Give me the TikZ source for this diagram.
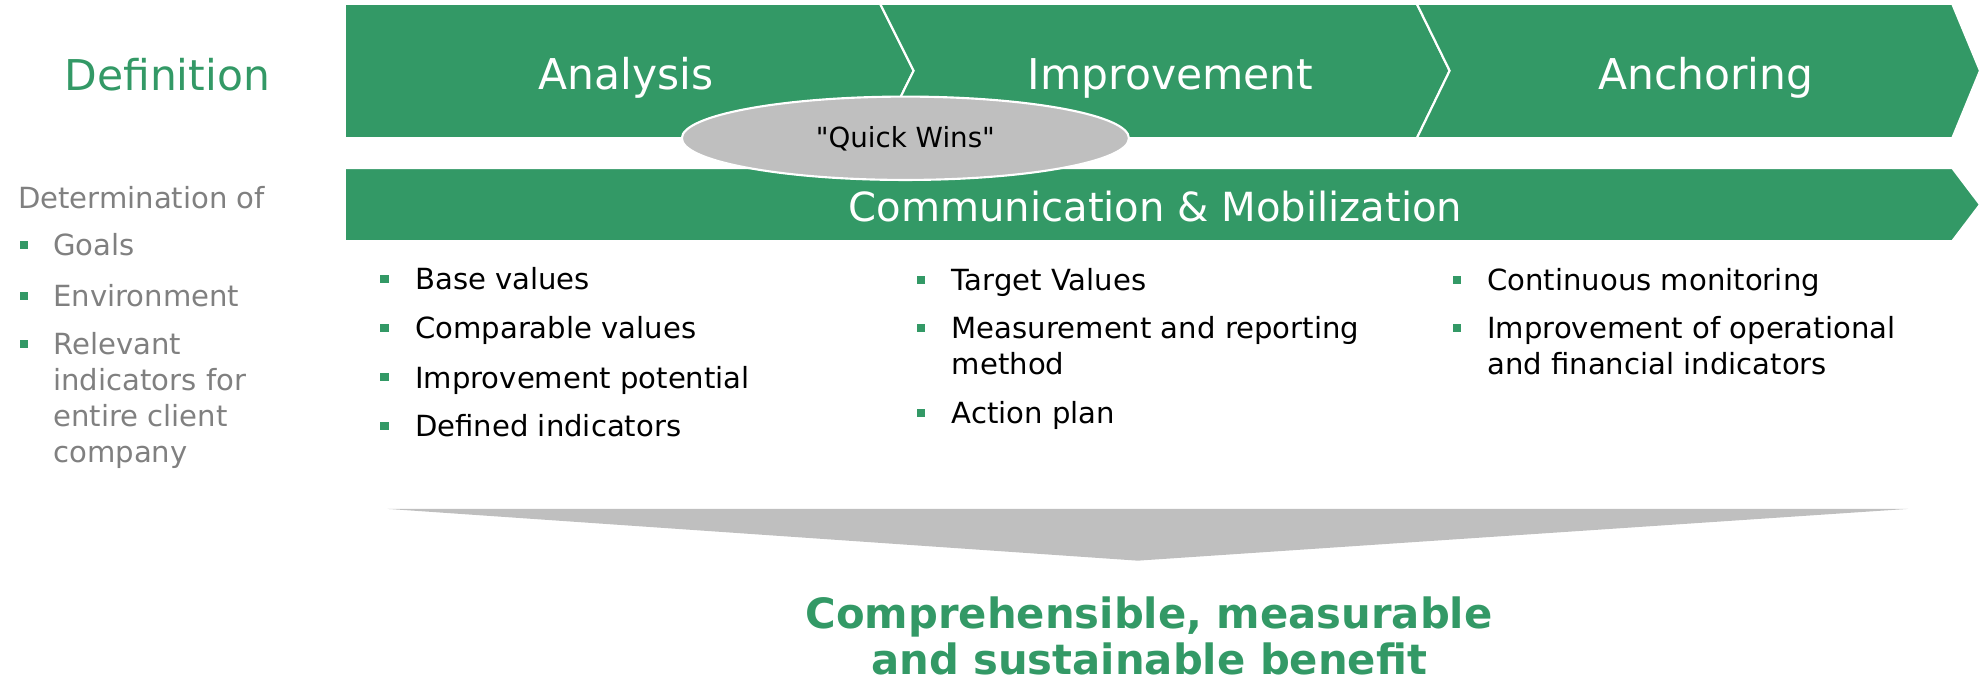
\documentclass[tikz,border=0pt]{standalone}
\usepackage{fontspec}
\setmainfont{DejaVu Sans}
\newfontfamily\winfamily{DejaVu Sans}[Ligatures=TeXOff]
\usepackage{xcolor}
\usepackage{tikz}
\usetikzlibrary{shapes.geometric}
\definecolor{phaseGreen}{RGB}{51,153,102}
\definecolor{winGray}{RGB}{191,191,191}
\definecolor{noteGray}{RGB}{128,128,128}
\newcommand{\phasefont}{\fontsize{23.9}{28}\selectfont}
\newcommand{\bandfont}{\fontsize{22.6}{26}\selectfont}
\newcommand{\itemfont}{\fontsize{16.4}{20.2}\selectfont}
\newcommand{\winfont}{\winfamily\fontsize{15.6}{18}\selectfont}
\newcommand{\benefitfont}{\fontsize{23.5}{26.3}\selectfont\bfseries}
\tikzset{%
  % Specifications for style of shapes and nodes:
      chevron/.style = {fill=phaseGreen, draw=white, line width=1.2pt,
                        line join=miter},
    phaseText/.style = {anchor=base, inner sep=0, text=white,
                        font=\phasefont},
         item/.style = {anchor=base west, inner sep=0,
                        font=\itemfont, text=black},
     noteItem/.style = {item, text=noteGray},
          dot/.style = {rectangle, fill=phaseGreen, inner sep=0,
                        minimum size=0.16cm},
}

\begin{document}
\begin{tikzpicture}[x=0.025cm, y=-0.025cm]
  \useasboundingbox (0,0) rectangle (1568,542.4);

  % Phase arrows
  \path[chevron] (273,3) -- (697,3) -- (723.5,56) -- (697,109.5)
                 -- (273,109.5) -- cycle;
  \path[chevron] (697,3) -- (1122,3) -- (1148,56) -- (1122,109.5)
                 -- (697,109.5) -- (723.5,56) -- cycle;
  \path[chevron] (1122,3) -- (1546,3) -- (1568,56) -- (1546,109.5)
                 -- (1122,109.5) -- (1148,56) -- cycle;
  \path[chevron] (273,133) -- (1546,133) -- (1568,162) -- (1546,191)
                 -- (273,191) -- cycle;

  % Funnel towards the benefit
  \fill[winGray] (307,403) -- (1511,403) -- (901,444) -- cycle;

  % Phase labels
  \node (definition)  [phaseText, text=phaseGreen] at (132.5,71.5) {Definition};
  \node (analysis)    [phaseText] at (495.5,70.5)  {Analysis};
  \node (improvement) [phaseText] at (927,70.5)    {Improvement};
  \node (anchoring)   [phaseText] at (1351,70.5)   {Anchoring};
  \node (communication) [phaseText, font=\bandfont] at (915,175.5)
                                       {Communication \& Mobilization};

  \node (quickWins) [ellipse, fill=winGray, draw=white, line width=1.2pt,
                     minimum width=8.85cm, minimum height=1.65cm, inner sep=0,
                     font=\winfont] at (717,109.5) {"Quick Wins"};

  % Definition column
  \node (determination) [noteItem] at (14,165)  {Determination of};
  \node (goalsDot)      [dot]      at (19,194.3)  {};
  \node (goals)         [noteItem] at (42,202.7)  {Goals};
  \node (environmentDot) [dot]     at (19,234.6)  {};
  \node (environment)   [noteItem] at (42,243)    {Environment};
  \node (relevantDot)   [dot]      at (19,272.6)  {};
  \node (relevant)      [noteItem] at (42,281)
    {\begin{tabular}[t]{@{}l@{}}Relevant\\indicators for\\entire client\\company\end{tabular}};

  % Analysis column
  \node (baseValuesDot)  [dot]  at (304.5,221.2) {};
  \node (baseValues)     [item] at (328.5,229.6) {Base values};
  \node (comparableDot)  [dot]  at (304.5,259.6) {};
  \node (comparable)     [item] at (328.5,268)   {Comparable values};
  \node (potentialDot)   [dot]  at (304.5,298.9) {};
  \node (potential)      [item] at (328.5,307.3) {Improvement potential};
  \node (definedDot)     [dot]  at (304.5,337.4) {};
  \node (defined)        [item] at (328.5,345.8) {Defined indicators};

  % Improvement column
  \node (targetDot)      [dot]  at (729.5,221.6) {};
  \node (target)         [item] at (753.5,230)   {Target Values};
  \node (measurementDot) [dot]  at (729.5,259.6) {};
  \node (measurement)    [item] at (753.5,268)
    {\begin{tabular}[t]{@{}l@{}}Measurement and reporting\\method\end{tabular}};
  \node (actionPlanDot)  [dot]  at (729.5,326.8) {};
  \node (actionPlan)     [item] at (753.5,335.2) {Action plan};

  % Anchoring column
  \node (monitoringDot)  [dot]  at (1154,221.6) {};
  \node (monitoring)     [item] at (1177.5,230)  {Continuous monitoring};
  \node (indicatorsDot)  [dot]  at (1154,259.6) {};
  \node (indicators)     [item] at (1177.5,268)
    {\begin{tabular}[t]{@{}l@{}}Improvement of operational\\and financial indicators\end{tabular}};

  % Result
  \node (benefit) [anchor=base, inner sep=0, text=phaseGreen,
                   font=\benefitfont] at (910,497.5)
    {\begin{tabular}[t]{@{}c@{}}Comprehensible, measurable\\and sustainable benefit\end{tabular}};
\end{tikzpicture}
\end{document}
